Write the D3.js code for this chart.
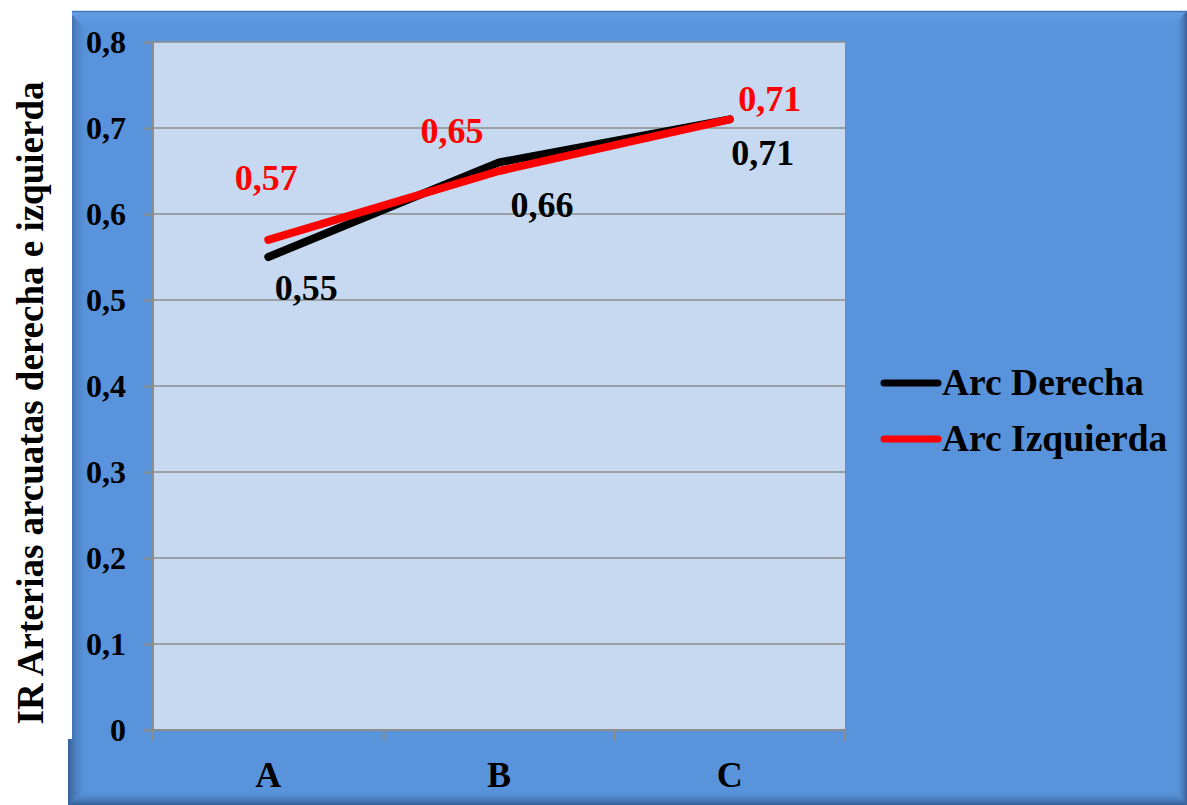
<!DOCTYPE html>
<html>
<head>
<meta charset="utf-8">
<script src="https://cdn.jsdelivr.net/npm/d3@7"></script>
<style>
  html, body { margin: 0; padding: 0; background: #fff; }
  svg text { font-family: "Liberation Serif", "Times New Roman", serif; font-weight: bold; }
</style>
</head>
<body>
<div id="chart"></div>
<script>
const categories = ["A", "B", "C"];
const seriesNames = ["Arc Derecha", "Arc Izquierda"];
const arcDerecha = [0.55, 0.66, 0.71];
const arcIzquierda = [0.57, 0.65, 0.71];
const yTicks = [0, 0.1, 0.2, 0.3, 0.4, 0.5, 0.6, 0.7, 0.8];
const yTitle = "IR Arterias arcuatas derecha e izquierda";

// label nudges (pixels) relative to each point, as placed in the original
const labelOffsets = [
  [[38, 43], [43, 55], [33, 46]],
  [[-2, -50], [-47, -28], [40, -8]]
];

const W = 1187, H = 805;
const colors = ["#000000", "#ff0000"];

const svg = d3.select("#chart").append("svg")
  .attr("width", W).attr("height", H);

const defs = svg.append("defs");
function grad(id, x1, y1, x2, y2, stops) {
  const g = defs.append("linearGradient").attr("id", id)
    .attr("x1", x1).attr("y1", y1).attr("x2", x2).attr("y2", y2);
  stops.forEach(s => g.append("stop").attr("offset", s[0]).attr("stop-color", s[1]).attr("stop-opacity", s[2]));
}
grad("gLeft", 0, 0, 1, 0, [[0, "#2b4f80", 0.75], [1, "#5a94dc", 0]]);
grad("gRight", 1, 0, 0, 0, [[0, "#2b4f80", 0.75], [1, "#5a94dc", 0]]);
grad("gBottom", 0, 1, 0, 0, [[0, "#2b4f80", 0.8], [1, "#5a94dc", 0]]);
grad("gTop", 0, 0, 0, 1, [[0, "#6aa4ea", 0.6], [1, "#5a94dc", 0]]);

// outer panel with bevel
const px0 = 68, py0 = 11, px1 = W, py1 = H, b = 15;
svg.append("rect").attr("x", px0).attr("y", py0)
  .attr("width", px1 - px0).attr("height", py1 - py0).attr("fill", "#5893db");
svg.append("polygon").attr("points", [[px0, py0], [px1, py0], [px1 - b, py0 + 22], [px0 + b, py0 + 22]].join(" ")).attr("fill", "url(#gTop)");
svg.append("polygon").attr("points", [[px0, py0], [px0 + b + 6, py0 + b + 6], [px0 + b + 6, py1 - b], [px0, py1]].join(" ")).attr("fill", "url(#gLeft)");
svg.append("polygon").attr("points", [[px1, py0], [px1 - 12, py0 + 12], [px1 - 12, py1 - b], [px1, py1]].join(" ")).attr("fill", "url(#gRight)");
svg.append("polygon").attr("points", [[px0, py1], [px0 + b + 6, py1 - b], [px1 - 12, py1 - b], [px1, py1]].join(" ")).attr("fill", "url(#gBottom)");
svg.append("line").attr("x1", px0).attr("x2", px1).attr("y1", py0 + 0.5).attr("y2", py0 + 0.5)
  .attr("stroke", "#4677b8").attr("stroke-width", 1.5);

// white strip for the axis title
svg.append("rect").attr("x", 0).attr("y", 0).attr("width", 72).attr("height", 739).attr("fill", "#fff");

const plot = {left: 153, right: 845, top: 42, bottom: 730};

const x = d3.scaleBand().domain(categories).range([plot.left, plot.right]);
const y = d3.scaleLinear().domain([0, 0.8]).range([plot.bottom, plot.top]);

svg.append("rect").attr("x", plot.left).attr("y", plot.top)
  .attr("width", plot.right - plot.left).attr("height", plot.bottom - plot.top)
  .attr("fill", "#c6d9f0");

// gridlines
svg.append("g").selectAll("line")
  .data(yTicks.filter(d => d > 0))
  .join("line")
    .attr("x1", plot.left).attr("x2", plot.right)
    .attr("y1", d => y(d)).attr("y2", d => y(d))
    .attr("stroke", "#8c8c8c").attr("stroke-width", 1.6);

// y axis
const yAxis = svg.append("g")
  .attr("transform", `translate(${plot.left},0)`)
  .call(d3.axisLeft(y).tickValues(yTicks).tickSize(9).tickPadding(18)
    .tickFormat(d => d === 0 ? "0" : d3.format(".1f")(d).replace(".", ",")));
yAxis.select(".domain").attr("stroke", "#8c8c8c").attr("stroke-width", 2)
  .attr("d", `M0,${plot.top}V${plot.bottom + 11}`);
yAxis.selectAll(".tick line").attr("stroke", "#8c8c8c").attr("stroke-width", 2);
yAxis.selectAll(".tick text").attr("fill", "#000").style("font-size", "32px")
  .attr("font-family", null);

// x axis
const xAxis = svg.append("g")
  .attr("transform", `translate(0,${plot.bottom})`)
  .call(d3.axisBottom(x).tickSize(0).tickPadding(31));
xAxis.select(".domain").attr("stroke", "#8c8c8c").attr("stroke-width", 2)
  .attr("d", `M${plot.left - 9},0H${plot.right}`);
xAxis.selectAll(".tick text").attr("fill", "#000").style("font-size", "36px")
  .attr("font-family", null);
const edges = categories.map(c => x(c)).concat([x(categories[categories.length - 1]) + x.bandwidth()]);
xAxis.selectAll(".edge").data(edges).join("line")
  .attr("x1", d => d).attr("x2", d => d).attr("y1", 0).attr("y2", 11)
  .attr("stroke", "#8c8c8c").attr("stroke-width", 2);

// lines
const series = [arcDerecha, arcIzquierda];
const line = d3.line()
  .x((d, i) => x(categories[i]) + x.bandwidth() / 2)
  .y(d => y(d));

svg.append("g").selectAll("path")
  .data(series)
  .join("path")
    .attr("d", d => line(d))
    .attr("fill", "none")
    .attr("stroke", (d, i) => colors[i])
    .attr("stroke-width", 8)
    .attr("stroke-linecap", "round")
    .attr("stroke-linejoin", "round");

// data labels
series.forEach((vals, si) => {
  svg.append("g").selectAll("text")
    .data(vals)
    .join("text")
      .attr("x", (d, i) => x(categories[i]) + x.bandwidth() / 2 + labelOffsets[si][i][0])
      .attr("y", (d, i) => y(d) + labelOffsets[si][i][1])
      .attr("text-anchor", "middle")
      .attr("fill", colors[si])
      .style("font-size", "36px")
      .text(d => d3.format(".2f")(d).replace(".", ","));
});

// legend
const legend = svg.append("g").attr("transform", "translate(884,383)");
const items = legend.selectAll("g").data(seriesNames).join("g")
  .attr("transform", (d, i) => `translate(0,${i * 56})`);
items.append("line").attr("x1", 0).attr("x2", 54).attr("y1", 0).attr("y2", 0)
  .attr("stroke", (d, i) => colors[i]).attr("stroke-width", 7).attr("stroke-linecap", "round");
items.append("text").attr("x", 58).attr("y", 12).attr("fill", "#000")
  .style("font-size", "37.5px").text(d => d);

// y title
svg.append("text")
  .attr("transform", "translate(43,403) rotate(-90)")
  .attr("text-anchor", "middle")
  .attr("fill", "#000")
  .style("font-size", "37px")
  .text(yTitle);
</script>
</body>
</html>
